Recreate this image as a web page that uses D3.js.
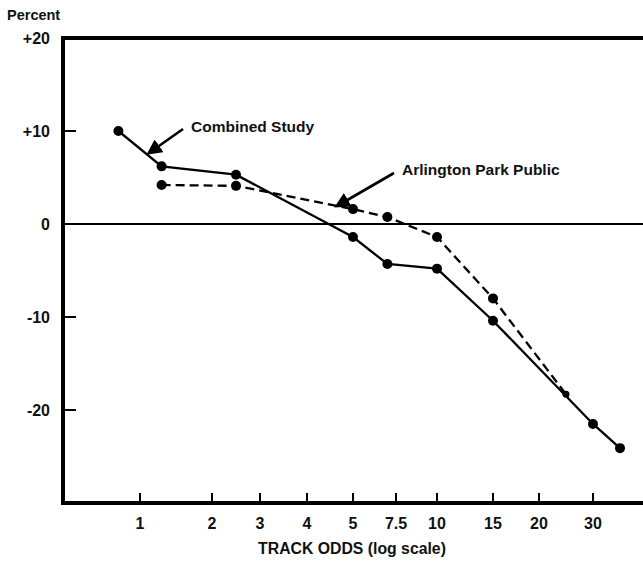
<!DOCTYPE html>
<html>
<head>
<meta charset="utf-8">
<script src="https://cdn.jsdelivr.net/npm/d3@7"></script>
<style>
  body { margin: 0; background: #fff; }
  text { font-family: "Liberation Sans", Arial, sans-serif; font-weight: bold; fill: #111; }
</style>
</head>
<body>
<div id="chart"></div>
<script>
// Tick values on the odds axis, and the labels shown under them
const oddsTicks = [1, 2, 3, 4, 5, 7.5, 10, 15, 20, 30];
const oddsTickLabels = ["1", "2", "3", "4", "5", "7.5", "10", "15", "20", "30"];
const percentTicks = [20, 10, 0, -10, -20];
const percentTickLabels = ["+20", "+10", "0", "-10", "-20"];

// Combined Study (solid line)
const combinedOdds = [0.7, 1.3, 2.5, 5, 7, 10, 15, 30, 35];
const combinedPct = [10, 6.2, 5.3, -1.4, -4.3, -4.8, -10.4, -21.5, -24.1];

// Arlington Park Public (dashed line)
const arlingtonOdds = [1.3, 2.5, 5, 7, 10, 15, 25];
const arlingtonPct = [4.2, 4.1, 1.6, 0.75, -1.4, -8.0, -18.3];

// The printed axis is only roughly logarithmic, so ticks are placed where the figure has them
const tickPos = [77, 149, 197, 244, 290, 333, 374, 430, 476, 530];

const margin = {top: 38, left: 63},
    width = 643,
    height = 568,
    plotH = 465,
    plotW = width - margin.left;

const svg = d3.select("#chart")
    .append("svg")
    .attr("width", width)
    .attr("height", height);

const g = svg.append("g")
    .attr("transform", "translate(" + margin.left + "," + margin.top + ")");

const x = d3.scaleLinear().domain(oddsTicks).range(tickPos);
const y = d3.scaleLinear().domain([-30, 20]).range([plotH, 0]);

// frame: left, bottom and top rules (right side runs off the page)
g.append("line").attr("x1", 0).attr("x2", 0).attr("y1", -2).attr("y2", plotH + 2)
    .attr("stroke", "#000").attr("stroke-width", 4);
g.append("line").attr("x1", -2).attr("x2", plotW + 5).attr("y1", plotH).attr("y2", plotH)
    .attr("stroke", "#000").attr("stroke-width", 4);
g.append("line").attr("x1", -2).attr("x2", plotW + 5).attr("y1", y(20)).attr("y2", y(20))
    .attr("stroke", "#000").attr("stroke-width", 4);

// zero reference line
g.append("line").attr("x1", 0).attr("x2", plotW + 5).attr("y1", y(0)).attr("y2", y(0))
    .attr("stroke", "#000").attr("stroke-width", 1.8);

// y ticks (pointing inward) and labels
g.selectAll(".ytick")
    .data(percentTicks.filter(d => d !== 0 && d !== 20))
    .enter().append("line")
    .attr("x1", 0).attr("x2", 13)
    .attr("y1", d => y(d)).attr("y2", d => y(d))
    .attr("stroke", "#000").attr("stroke-width", 2);
g.selectAll(".ylabel")
    .data(percentTicks)
    .enter().append("text")
    .attr("x", -13)
    .attr("y", d => y(d))
    .attr("dy", "0.36em")
    .attr("text-anchor", "end")
    .attr("font-size", "16px")
    .text((d, i) => percentTickLabels[i]);

svg.append("text")
    .attr("x", 7).attr("y", 20)
    .attr("font-size", "14.5px")
    .text("Percent");

// x ticks (pointing inward) and labels
g.selectAll(".xtick")
    .data(oddsTicks)
    .enter().append("line")
    .attr("x1", d => x(d)).attr("x2", d => x(d))
    .attr("y1", plotH).attr("y2", plotH - 10)
    .attr("stroke", "#000").attr("stroke-width", 2);
g.selectAll(".xlabel")
    .data(oddsTicks)
    .enter().append("text")
    .attr("x", d => x(d))
    .attr("y", plotH + 26)
    .attr("text-anchor", "middle")
    .attr("font-size", "16px")
    .text((d, i) => oddsTickLabels[i]);

svg.append("text")
    .attr("x", 352).attr("y", 554)
    .attr("text-anchor", "middle")
    .attr("font-size", "15.8px")
    .text("TRACK ODDS (log scale)");

// series
const line = d3.line().x(d => x(d[0])).y(d => y(d[1]));
const combined = combinedOdds.map((o, i) => [o, combinedPct[i]]);
const arlington = arlingtonOdds.map((o, i) => [o, arlingtonPct[i]]);

g.append("path").datum(arlington)
    .attr("d", line).attr("fill", "none")
    .attr("stroke", "#000").attr("stroke-width", 2.3)
    .attr("stroke-dasharray", "9,5");
g.append("path").datum(combined)
    .attr("d", line).attr("fill", "none")
    .attr("stroke", "#000").attr("stroke-width", 2.3);

g.selectAll(".dotA").data(arlington).enter().append("circle")
    .attr("cx", d => x(d[0])).attr("cy", d => y(d[1]))
    .attr("r", (d, i) => i === arlington.length - 1 ? 3.5 : 5).attr("fill", "#000");
g.selectAll(".dotC").data(combined).enter().append("circle")
    .attr("cx", d => x(d[0])).attr("cy", d => y(d[1]))
    .attr("r", 5).attr("fill", "#000");

// annotations with arrows
svg.append("defs").append("marker")
    .attr("id", "head")
    .attr("viewBox", "0 0 10 10")
    .attr("refX", 8).attr("refY", 5)
    .attr("markerWidth", 6).attr("markerHeight", 6)
    .attr("markerUnits", "strokeWidth")
    .attr("orient", "auto")
    .append("path").attr("d", "M0,0 L10,5 L0,10 z").attr("fill", "#000");

const notes = [
    {label: "Combined Study", tx: 191, ty: 132, from: [183, 129], to: [149, 153]},
    {label: "Arlington Park Public", tx: 402, ty: 175, from: [394, 173], to: [337, 206]}
];
notes.forEach(n => {
    svg.append("line")
        .attr("x1", n.from[0]).attr("y1", n.from[1])
        .attr("x2", n.to[0]).attr("y2", n.to[1])
        .attr("stroke", "#000").attr("stroke-width", 2.6)
        .attr("marker-end", "url(#head)");
    svg.append("text")
        .attr("x", n.tx).attr("y", n.ty)
        .attr("font-size", "15.5px")
        .text(n.label);
});
</script>
</body>
</html>
